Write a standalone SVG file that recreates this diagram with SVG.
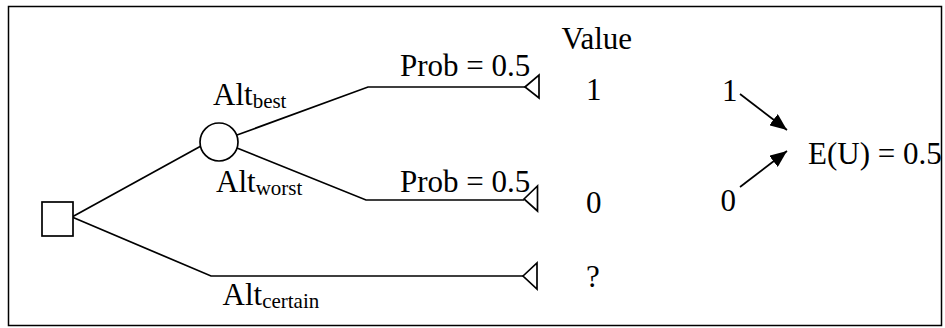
<svg xmlns="http://www.w3.org/2000/svg" width="945" height="328" viewBox="0 0 945 328">
<style>
  text { font-family: "Liberation Serif", "Times New Roman", serif; font-size: 31px; fill: #000; }
  .sub { font-size: 21px; }
  .ln { fill: none; stroke: #000; stroke-width: 1.7; }
  .shape { fill: #fff; stroke: #000; stroke-width: 1.7; }
</style>
<defs>
  <marker id="ah" markerUnits="userSpaceOnUse" markerWidth="18" markerHeight="14" refX="17" refY="7" orient="auto">
    <path d="M0,0 L17,7 L0,14 Z" fill="#000"/>
  </marker>
</defs>
<rect x="8.5" y="6.5" width="933" height="319" fill="#fff" stroke="#000" stroke-width="1.5"/>

<g id="connectors">
  <polyline class="ln" points="72,217 201,146"/>
  <polyline class="ln" points="237,135 368,87 526,87"/>
  <polyline class="ln" points="237,148 366,200 524,200"/>
  <polyline class="ln" points="72,217 211,276 523,276"/>
  <line class="ln" x1="740" y1="94" x2="787" y2="130" marker-end="url(#ah)"/>
  <line class="ln" x1="740" y1="187" x2="787" y2="151" marker-end="url(#ah)"/>
</g>

<g id="decision">
  <rect class="shape" x="42" y="202" width="31" height="34"/>
</g>
<g id="chance">
  <circle class="shape" cx="219" cy="142" r="19"/>
</g>
<g id="terminal-best">
  <polygon class="shape" points="525,87 539,75 539,98"/>
</g>
<g id="terminal-worst">
  <polygon class="shape" points="524,199 537.5,186 537.5,211"/>
</g>
<g id="terminal-certain">
  <polygon class="shape" points="523,276 537,263 537,289"/>
</g>

<g id="labels">
  <text x="213" y="104.5">Alt<tspan class="sub" dy="3">best</tspan></text>
  <text x="216" y="191.5">Alt<tspan class="sub" dy="3">worst</tspan></text>
  <text x="222.5" y="305">Alt<tspan class="sub" dy="3">certain</tspan></text>
  <text x="400" y="76">Prob = 0.5</text>
  <text x="400" y="191.5">Prob = 0.5</text>
  <text x="561.5" y="49">Value</text>
  <text x="586" y="100">1</text>
  <text x="586" y="213">0</text>
  <text x="586" y="287">?</text>
  <text x="722" y="100.5">1</text>
  <text x="720.5" y="211">0</text>
  <text x="808" y="163.5">E(U) = 0.5</text>
</g>
</svg>
